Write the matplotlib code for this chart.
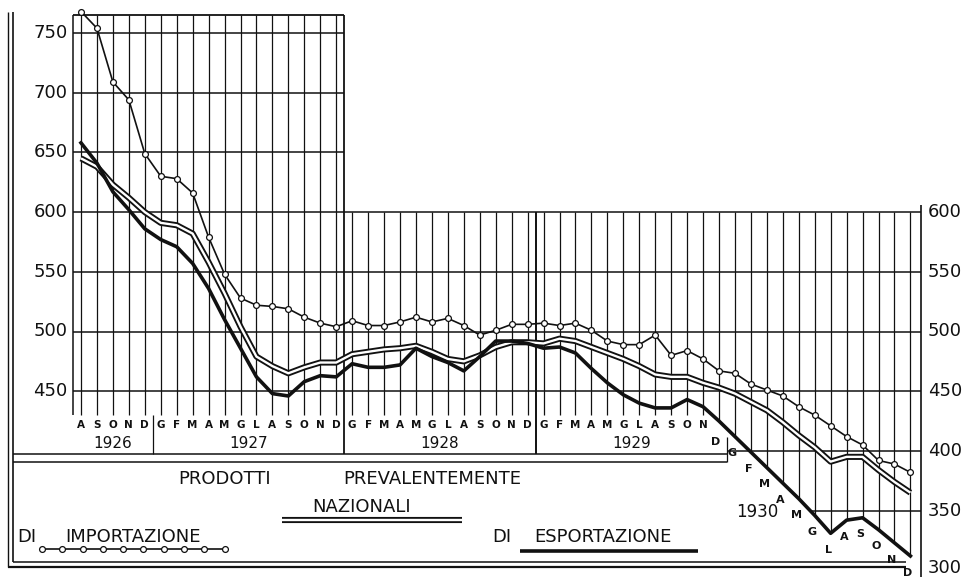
"""Indici dei prezzi dei prodotti nazionali, di importazione e di esportazione (1926-1930)."""
import matplotlib
matplotlib.use("Agg")
import matplotlib.pyplot as plt
import numpy as np

# monthly series, agosto 1926 .. dicembre 1930
importazione = [768, 754, 709, 694, 649,
                630, 628, 616, 579, 548, 528, 522, 521, 519, 512, 507, 504,
                509, 505, 505, 508, 512, 508, 511, 505, 497, 501, 506, 506,
                507, 505, 507, 501, 492, 489, 489, 497, 480, 484, 477, 467,
                465, 456, 451, 446, 437, 430, 421, 412, 405, 392, 389, 382]
nazionali = [645, 638, 623, 612, 600,
             591, 589, 582, 558, 532, 504, 479, 471, 465, 470, 474, 474,
             481, 483, 485, 486, 488, 483, 477, 475, 480, 487, 491, 491,
             490, 494, 492, 487, 482, 477, 471, 464, 462, 462, 457, 453,
             448, 441, 434, 424, 413, 403, 391, 395, 395, 384, 374, 365]
esportazione = [658, 641, 617, 602, 586,
                577, 571, 557, 536, 510, 486, 462, 448, 446, 458, 463, 462,
                473, 470, 470, 472, 486, 479, 474, 467, 479, 492, 492, 490,
                486, 487, 482, 469, 457, 447, 440, 436, 436, 443, 437, 425,
                412, 399, 386, 373, 360, 346, 331, 342, 344, 334, 323, 312]

months_1926 = ["A", "S", "O", "N", "D"]
months_year = ["G", "F", "M", "A", "M", "G", "L", "A", "S", "O", "N", "D"]
years = ["1926", "1927", "1928", "1929"]
left_ticks = [750, 700, 650, 600, 550, 500, 450]
right_ticks = [600, 550, 500, 450, 400, 350, 300]

# page geometry: one month = 15.95 px, 50 points = 59.7 px
PX_MONTH = 15.95
PX_UNIT = 1.194
X0_PX = 81
Y750_PX = 33
W, H = 980, 577

INK = "#111111"
FONT = "DejaVu Sans"

months = months_1926 + months_year * 4
n = len(months)
x = np.arange(n)

fig = plt.figure(figsize=(W / 100, H / 100), dpi=100)
ax = fig.add_axes([0, 0, 1, 1])
ax.set_xlim(-X0_PX / PX_MONTH, (W - X0_PX) / PX_MONTH)
ax.set_ylim(750 - (H - Y750_PX) / PX_UNIT, 750 + Y750_PX / PX_UNIT)
ax.axis("off")


def hline(y, x0, x1, lw=1.0, **kw):
    ax.plot([x0, x1], [y, y], color=INK, lw=lw, solid_capstyle="butt", zorder=1, **kw)


def vline(xv, y0, y1, lw=0.9, **kw):
    ax.plot([xv, xv], [y0, y1], color=INK, lw=lw, solid_capstyle="butt", zorder=1, **kw)


# frame levels (in index points)
PANEL_TOP = 765
GRID_BOTTOM = 430
YEAR_ROW_BOTTOM = 397
BOX_TOP = 391
BOTTOM_A, BOTTOM_B = 307, 303
RIGHT_EDGE = 52.65
OUTER_A, OUTER_B = -4.6, -4.27

# vertical grid, one line per month
for i in x:
    top = PANEL_TOP if i <= 16 else 600
    bottom = GRID_BOTTOM if i < 40 else min(GRID_BOTTOM, esportazione[i])
    vline(i, top, bottom)
vline(-0.5, PANEL_TOP, GRID_BOTTOM, lw=1.1)
vline(16.5, PANEL_TOP, YEAR_ROW_BOTTOM, lw=1.3)
vline(28.5, 600, YEAR_ROW_BOTTOM, lw=1.4)
vline(4.5, GRID_BOTTOM, YEAR_ROW_BOTTOM)
vline(40.5, 412, BOX_TOP)
vline(RIGHT_EDGE, 606, 294, lw=1.2)

# horizontal grid
hline(PANEL_TOP, -0.5, 16.5, lw=1.3)
for v in left_ticks:
    hline(v, -0.5, 16.5 if v > 600 else RIGHT_EDGE, lw=1.1)
hline(400, 40.5, RIGHT_EDGE, lw=1.1)
cross_350 = np.interp(350, esportazione[::-1], x[::-1])
hline(350, cross_350, RIGHT_EDGE, lw=1.1)

# outer border and legend box
vline(OUTER_A, 768, BOTTOM_B, lw=1.0)
vline(OUTER_B, 768, BOTTOM_A, lw=1.2)
hline(YEAR_ROW_BOTTOM, OUTER_B, 40.5, lw=1.1)
hline(BOX_TOP, OUTER_B, 40.5, lw=1.1)
hline(BOTTOM_A, OUTER_B, 51.7, lw=1.1)
hline(BOTTOM_B, OUTER_A, 51.7, lw=1.6)

# tick labels
for v in left_ticks:
    ax.text(-0.85, v, str(v), ha="right", va="center", fontsize=13,
            family=FONT, color=INK)
for v in right_ticks:
    ax.text(53.1, v + (2 if v == 300 else 0), str(v), ha="left", va="center",
            fontsize=13, family=FONT, color=INK)

# month and year labels
for i, m in enumerate(months[:40]):
    ax.text(i, 421.5, m, ha="center", va="center", fontsize=7.5,
            fontweight="bold", family=FONT, color=INK)
ax.text(39.8, 407.5, months[40], ha="center", va="center", fontsize=8,
        fontweight="bold", family=FONT, color=INK)
for i in range(41, n):
    ax.text(i - 0.15, esportazione[i] - 14, months[i], ha="center", va="center",
            fontsize=8, fontweight="bold", family=FONT, color=INK)
for label, xc in zip(years, [2, 10.5, 22.5, 34.5]):
    ax.text(xc, 406.5, label, ha="center", va="center", fontsize=11,
            family=FONT, color=INK)
ax.text(42.4, 349, "1930", ha="center", va="center", fontsize=12,
        family=FONT, color=INK)


def double_line(xs, ys, z=4):
    ax.plot(xs, ys, color=INK, lw=4.4, solid_joinstyle="round",
            solid_capstyle="butt", zorder=z)
    ax.plot(xs, ys, color="white", lw=1.7, solid_joinstyle="round",
            solid_capstyle="butt", zorder=z + 0.1)


# series
double_line(x, nazionali)
ax.plot(x, esportazione, color=INK, lw=2.6, solid_joinstyle="round", zorder=5)
ax.plot(x, importazione, color=INK, lw=1.2, marker="o", ms=4.2, mfc="white",
        mec=INK, mew=0.9, zorder=6)

# legend
ax.text(9.0, 376.5, "PRODOTTI", ha="center", va="center", fontsize=13,
        family=FONT, color=INK)
ax.text(22.0, 376.5, "PREVALENTEMENTE", ha="center", va="center", fontsize=13,
        family=FONT, color=INK)
ax.text(17.6, 353, "NAZIONALI", ha="center", va="center", fontsize=13,
        family=FONT, color=INK)
double_line([12.6, 23.9], [342.5, 342.5])

ax.text(-4.0, 328, "DI", ha="left", va="center", fontsize=13, family=FONT, color=INK)
ax.text(-1.0, 328, "IMPORTAZIONE", ha="left", va="center", fontsize=13,
        family=FONT, color=INK)
sample_x = np.linspace(-2.45, 9.0, 10)
ax.plot(sample_x, [318] * len(sample_x), color=INK, lw=1.2, marker="o", ms=4.2,
        mfc="white", mec=INK, mew=0.9, zorder=6)

ax.text(25.8, 328, "DI", ha="left", va="center", fontsize=13, family=FONT, color=INK)
ax.text(28.4, 328, "ESPORTAZIONE", ha="left", va="center", fontsize=13,
        family=FONT, color=INK)
ax.plot([27.5, 38.7], [316.5, 316.5], color=INK, lw=2.6, solid_capstyle="butt", zorder=5)

fig.savefig("out.png", dpi=100, facecolor="white")
plt.close(fig)
